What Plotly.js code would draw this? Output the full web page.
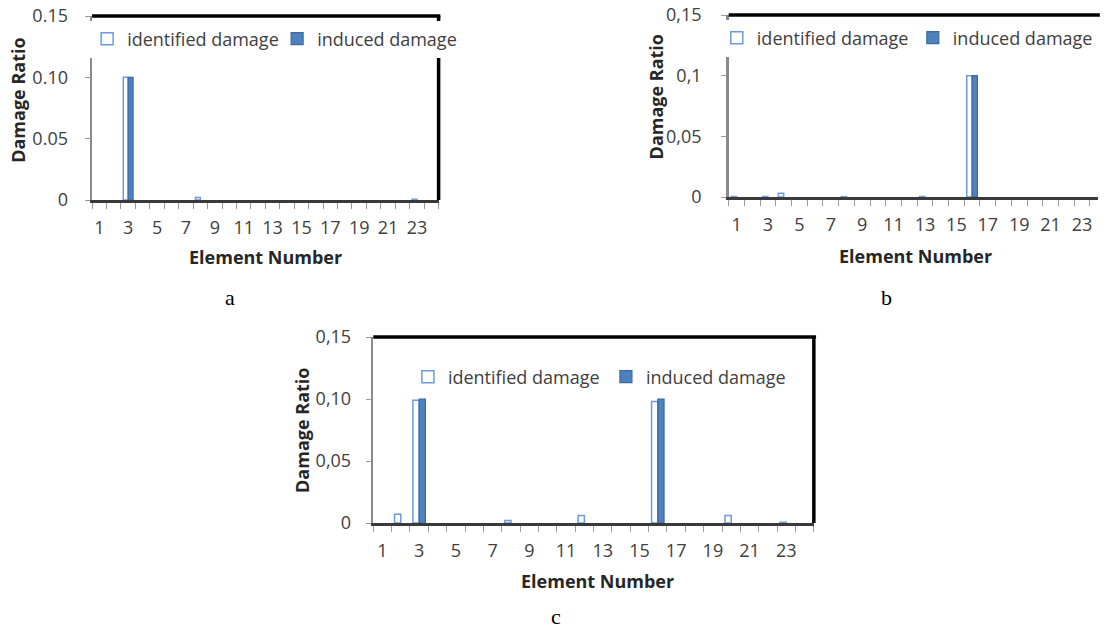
<!DOCTYPE html>
<html>
<head>
<meta charset="utf-8">
<script src="https://cdn.plot.ly/plotly-3.0.1.min.js"></script>
<style>
html,body{margin:0;padding:0;background:#fff;overflow:hidden;}
#chart{width:1109px;height:629px;}
</style>
</head>
<body>
<div id="chart"></div>
<script>
// ---- data ----
const elements = [1,2,3,4,5,6,7,8,9,10,11,12,13,14,15,16,17,18,19,20,21,22,23,24];
const xTickVals = [1,3,5,7,9,11,13,15,17,19,21,23];
const xTickText = ["1","3","5","7","9","11","13","15","17","19","21","23"];
const yTickVals = [0,0.05,0.10,0.15];
const yTickTextA = ["0","0.05","0.10","0.15"];
const yTickTextB = ["0","0,05","0,1","0,15"];
const yTickTextC = ["0","0,05","0,10","0,15"];

const identifiedA = [0,0,0.100,0,0,0,0,0.002,0,0,0,0,0,0,0,0,0,0,0,0,0,0,0.0006,0];
const inducedA    = [0,0,0.100,0,0,0,0,0,0,0,0,0,0,0,0,0,0,0,0,0,0,0,0,0];
const identifiedB = [0.0004,0,0.0005,0.003,0,0,0,0.0003,0,0,0,0,0.0005,0,0,0.100,0,0,0,0,0,0,0,0];
const inducedB    = [0,0,0,0,0,0,0,0,0,0,0,0,0,0,0,0.100,0,0,0,0,0,0,0,0];
const identifiedC = [0,0.007,0.099,0,0,0,0,0.002,0,0,0,0.006,0,0,0,0.098,0,0,0,0.006,0,0,0.0006,0];
const inducedC    = [0,0,0.100,0,0,0,0,0,0,0,0,0,0,0,0,0.100,0,0,0,0,0,0,0,0];

const seriesNames = ["identified damage","induced damage"];
const panelLabels = ["a","b","c"];
const yTitle = "Damage Ratio";
const xTitle = "Element Number";

// ---- styling ----
const W = 1109, H = 629;
const FONT = "Open Sans, sans-serif";
const TXT = "#404040";
const idLine = "#6d9ae0";
const indFill = "#4f81bd";
const indLine = "#3b6aa6";

function px(x){return x/W;}
function py(y){return 1 - y/H;}
// zero-height bars are not drawn (no outline on the baseline)
function nz(arr){return arr.map(v => v === 0 ? null : v);}

function barTraces(idv, indv, xa, ya, lg){
  return [
    {type:"bar", x:elements, y:nz(idv), name:seriesNames[0], xaxis:xa, yaxis:ya, legend:lg,
     marker:{color:"#ffffff", line:{color:idLine, width:1.5}}, hoverinfo:"x+y"},
    {type:"bar", x:elements, y:nz(indv), name:seriesNames[1], xaxis:xa, yaxis:ya, legend:lg,
     marker:{color:indFill, line:{color:indLine, width:1.2}}, hoverinfo:"x+y"}
  ];
}

const data = [].concat(
  barTraces(identifiedA, inducedA, "x", "y", "legend"),
  barTraces(identifiedB, inducedB, "x2", "y2", "legend2"),
  barTraces(identifiedC, inducedC, "x3", "y3", "legend3")
);

function xAxis(domain, range, anchor){
  return {
    domain: domain, range: range, anchor: anchor, type:"linear",
    tickmode:"array", tickvals:xTickVals, ticktext:xTickText,
    ticks:"", showgrid:false, zeroline:false,
    showline:true, linecolor:"#3a3a3a", linewidth:2.5,
    tickfont:{family:FONT, size:18, color:TXT},
    ticklabelstandoff: 10,
    minor:{ticks:"outside", tickmode:"linear", tick0:0.5, dtick:1, ticklen:6, tickcolor:"#9a9a9a", tickwidth:1, showgrid:false},
    fixedrange:true
  };
}
function yAxis(domain, ticktext, anchor, standoff){
  return {
    domain: domain, range:[0,0.15], anchor: anchor,
    tickmode:"array", tickvals:yTickVals, ticktext:ticktext,
    ticks:"outside", ticklen:5, tickcolor:"#9a9a9a", tickwidth:1,
    showgrid:false, zeroline:false,
    showline:true, linecolor:"#8a8a8a", linewidth:2.5,
    tickfont:{family:FONT, size:18, color:TXT},
    ticklabelstandoff: standoff,
    fixedrange:true
  };
}

function legendAt(xpx, ypx, ew){
  return {
    x:px(xpx), y:py(ypx), xanchor:"left", yanchor:"middle", orientation:"h",
    bgcolor:"#ffffff", borderwidth:0, font:{family:FONT, size:18, color:TXT},
    entrywidth: ew, entrywidthmode:"pixels", traceorder:"normal",
    itemclick:false, itemdoubleclick:false
  };
}

function frame(xr, yr, right){
  const s = [{type:"line", xref:xr+" domain", yref:yr+" domain", x0:0, x1:1.005, y0:1, y1:1,
              line:{color:"#000", width:3.5}, layer:"above"}];
  if(right){
    s.push({type:"line", xref:xr+" domain", yref:yr+" domain", x0:1, x1:1, y0:0, y1:1,
            line:{color:"#000", width:3.5}, layer:"above"});
  }
  return s;
}

function ann(text, x, y, opts){
  return Object.assign({text:text, x:px(x), y:py(y), xref:"paper", yref:"paper",
    showarrow:false, xanchor:"center", yanchor:"middle"}, opts||{});
}
const titleFont = {family:FONT, size:18, color:"#262626", weight:"bold"};
const letterFont = {family:"Liberation Serif, Times New Roman, serif", size:22, color:"#000"};

const layout = {
  width:W, height:H, margin:{l:0,r:0,t:0,b:0},
  paper_bgcolor:"#fff", plot_bgcolor:"#fff",
  barmode:"group", bargap:0.32, bargroupgap:0,
  showlegend:true,
  xaxis: xAxis([px(93), px(443)], [0.5,24.5], "y"),
  yaxis: yAxis([py(200), py(16)], yTickTextA, "x", 13),
  xaxis2: xAxis([px(736), 1], [0.5, 0.5 + (W-736)/15.86], "y2"),
  yaxis2: yAxis([py(197), py(15)], yTickTextB, "x2", 16),
  xaxis3: xAxis([px(377), px(822)], [0.5,24.5], "y3"),
  yaxis3: yAxis([py(523), py(337)], yTickTextC, "x3", 11),
  legend: legendAt(88, 39, 145),
  legend2: legendAt(724, 38, 151),
  legend3: legendAt(412, 377, 153),
  shapes: [].concat(frame("x","y",true), frame("x2","y2",false), frame("x3","y3",true)),
  annotations: [
    ann(yTitle, 18, 100, {textangle:-90, font:titleFont}),
    ann(xTitle, 268, 257, {font:titleFont}),
    ann(yTitle, 663, 97, {textangle:-90, font:titleFont}),
    ann(xTitle, 925, 256, {font:titleFont}),
    ann(yTitle, 305, 430, {textangle:-90, font:titleFont}),
    ann(xTitle, 603, 581, {font:titleFont}),
    ann(panelLabels[0], 232, 297, {font:letterFont}),
    ann(panelLabels[1], 895, 297, {font:letterFont}),
    ann(panelLabels[2], 562, 616, {font:letterFont})
  ]
};

Plotly.newPlot("chart", data, layout, {displayModeBar:false, staticPlot:true});
</script>
</body>
</html>
